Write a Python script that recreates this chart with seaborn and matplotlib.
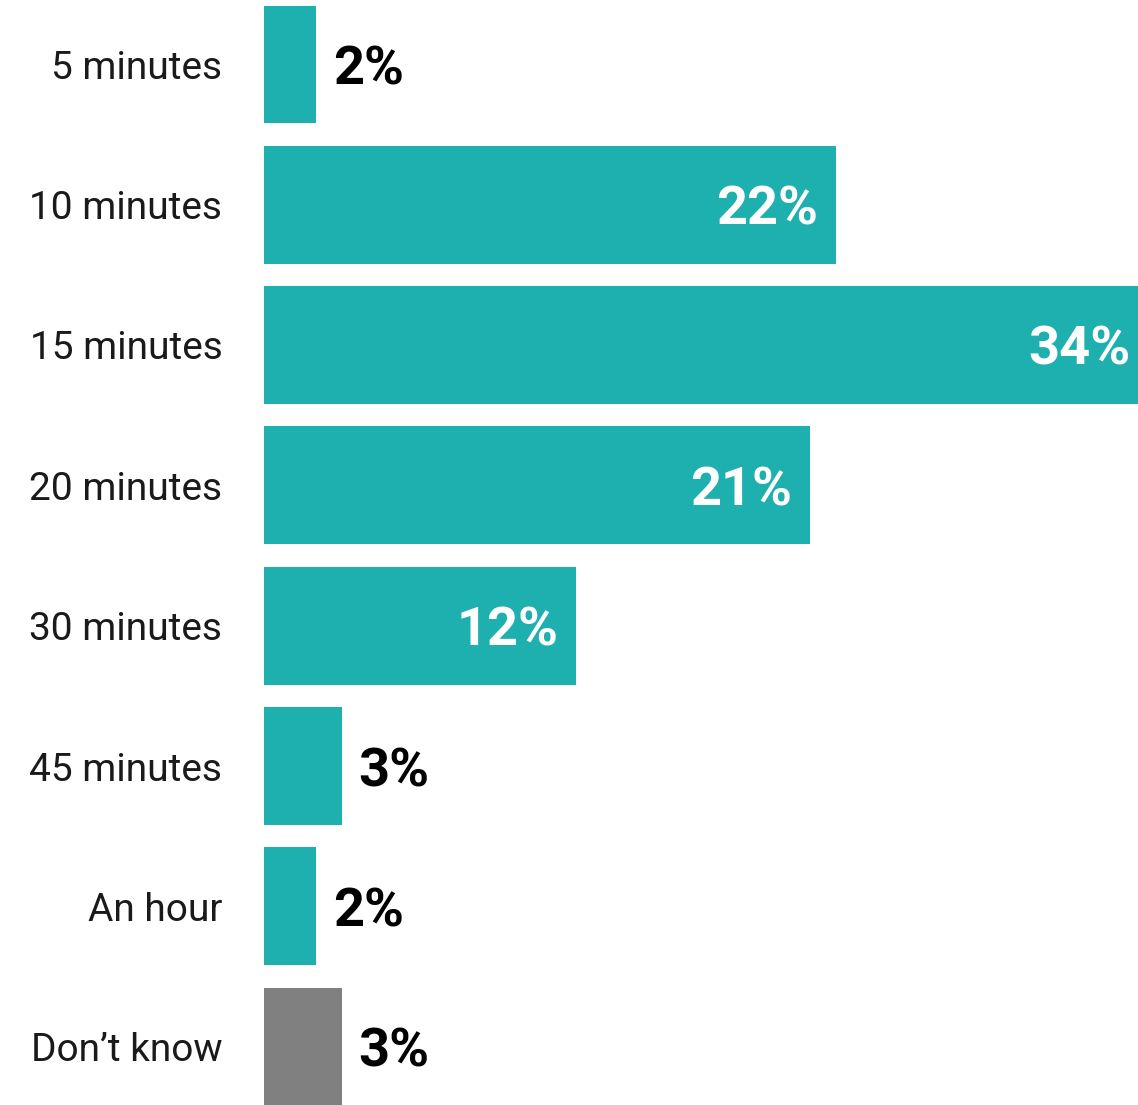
import matplotlib
matplotlib.use("Agg")
import matplotlib.pyplot as plt
import seaborn as sns
import pandas as pd

categories = ["5 minutes", "10 minutes", "15 minutes", "20 minutes", "30 minutes",
              "45 minutes", "An hour", "Don\u2019t know"]
values = [2, 22, 34, 21, 12, 3, 2, 3]
labels = ["2%", "22%", "34%", "21%", "12%", "3%", "2%", "3%"]
colors = ["#1EAFAF"] * 7 + ["#808080"]

df = pd.DataFrame({"category": categories, "value": values})

sns.set_theme(style="white")
plt.rcParams['font.family'] = ['Roboto', 'DejaVu Sans']

fig = plt.figure(figsize=(11.38, 11.05), dpi=100)
ax = fig.add_axes([264/1138, 0.0, 1 - 264/1138, 1 - 6/1105])

sns.barplot(data=df, x="value", y="category", hue="category", palette=colors,
            legend=False, width=0.84, orient="h", ax=ax, saturation=1,
            linewidth=0)

ax.set_xlim(0, 33.6)
ax.set_ylim(7.415, -0.415)
ax.set_xlabel("")
ax.set_ylabel("")
ax.set_xticks([])
for s in ax.spines.values():
    s.set_visible(False)
ax.tick_params(axis="y", length=0, pad=30, labelsize=28, labelcolor="#1a1a1a")

for i, (v, lab) in enumerate(zip(values, labels)):
    if v > 8:
        t = ax.annotate(lab, (v, i), xytext=(-13, 0), textcoords="offset points",
                        ha="right", va="center_baseline", color="white", fontsize=39,
                        fontweight="bold", annotation_clip=False)
    else:
        t = ax.annotate(lab, (v, i), xytext=(12, 0), textcoords="offset points",
                        ha="left", va="center_baseline", color="black", fontsize=39,
                        fontweight="bold")

fig.savefig("out.png", dpi=100)
